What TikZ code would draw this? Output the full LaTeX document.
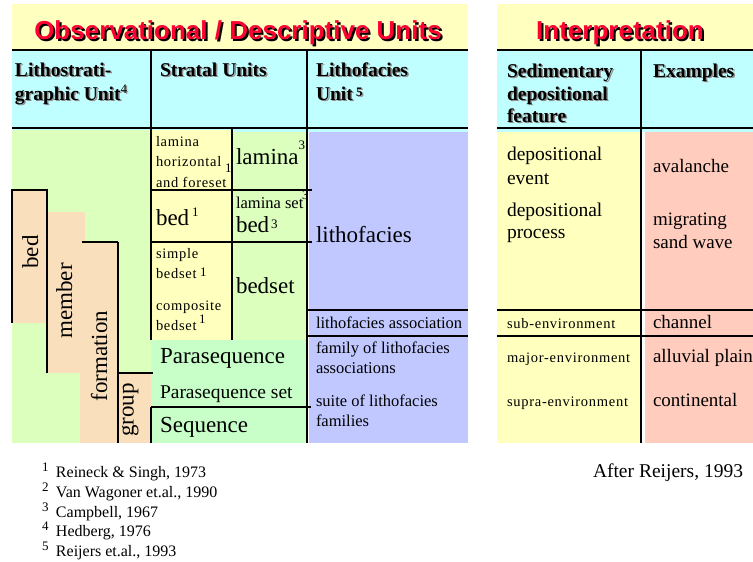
\documentclass[tikz,border=0pt]{standalone}
\usepackage{fontspec}
\setmainfont{Liberation Serif}
\newfontfamily\headsans{Liberation Sans}
\newcommand\pxsize[1]{\fontsize{#1}{#1}\selectfont}
% text with a drop shadow: #1 shadow colour, #2 offset, #3 text colour, #4 text
\newcommand\shtxt[4]{\leavevmode\rlap{\hspace*{#2}\raisebox{-#2}{\textcolor{#1}{#4}}}\textcolor{#3}{#4}}
\newcommand\hdtxt[1]{\shtxt{black!45}{1.5pt}{black}{#1}}

\definecolor{titlebg}{HTML}{FFFFC0}
\definecolor{headbg}{HTML}{C0FFFF}
\definecolor{lithogreen}{HTML}{DCFFBE}
\definecolor{tanfill}{HTML}{FADFBC}
\definecolor{cellyel}{HTML}{FFFFBE}
\definecolor{mint}{HTML}{C8FFC8}
\definecolor{faciesblue}{HTML}{C0C8FF}
\definecolor{salmon}{HTML}{FFCCBE}
\definecolor{titlered}{HTML}{FF0033}

\begin{document}
\begin{tikzpicture}[x=1pt,y=-1pt,
  rule/.style={line width=1.4pt, black},
  lbl/.style={anchor=base west, inner sep=0pt, outer sep=0pt},
  titletxt/.style={anchor=base, inner sep=0pt, font=\headsans\bfseries\pxsize{26}},
  hd/.style={lbl, font=\bfseries\pxsize{19.5}},
  big/.style={lbl, font=\pxsize{23}},
  mid/.style={lbl, font=\pxsize{19.5}},
  ex/.style={lbl, font=\pxsize{19}},
  sml/.style={lbl, font=\pxsize{16.5}},
  foot/.style={lbl, font=\pxsize{16}},
  tiny/.style={lbl, font=\pxsize{14.5}\addfontfeature{LetterSpace=5}},
  supnum/.style={lbl, font=\pxsize{13}},
  vert/.style={anchor=base, inner sep=0pt, outer sep=0pt, rotate=90, font=\pxsize{23}}]

\useasboundingbox (0,0) rectangle (753,562);

% ---------- Observational / Descriptive Units: fills ----------
\fill[titlebg] (12,4) rectangle (468,50);
\fill[headbg] (12,50) rectangle (468,132);
\fill[lithogreen] (12,130) rectangle (151,443);
\fill[cellyel] (151,130) rectangle (232,340);
\fill[lithogreen] (232,132) rectangle (307,340);
\fill[mint] (151,340) rectangle (307,443);
\fill[faciesblue] (309,132) rectangle (468,443);
% lithostratigraphic staircase
\fill[tanfill] (12,190) rectangle (47,323);
\fill[tanfill] (47,212) rectangle (85,242);
\fill[tanfill] (47,242) rectangle (82,373);
\fill[tanfill] (80,242) rectangle (118,443);
\fill[tanfill] (118,373) rectangle (151,443);

% ---------- Observational / Descriptive Units: rules ----------
\draw[rule] (12,50) -- (468,50);
\draw[rule] (12,128) -- (468,128);
\draw[rule] (151,50) -- (151,340);
\draw[rule] (151,407) -- (151,443);
\draw[rule] (307,50) -- (307,443);
\draw[rule] (232,128) -- (232,340);
\draw[rule] (151,190) -- (312,190);
\draw[rule] (151,242) -- (312,242);
\draw[rule] (151,407) -- (311,407);
\draw[rule] (307,310) -- (468,310);
\draw[rule] (307,336) -- (468,336);
\draw[rule] (12,323) -- (12,190) -- (48,190);
\draw[rule] (47,190) -- (47,373);
\draw[rule] (82,242) -- (118,242);
\draw[rule] (118,242) -- (118,443);
\draw[rule] (118,373) -- (153,373);

% ---------- Interpretation: fills and rules ----------
\fill[titlebg] (497,4) rectangle (753,50);
\fill[headbg] (497,50) rectangle (753,132);
\fill[cellyel] (497,132) rectangle (641,443);
\fill[salmon] (645,132) rectangle (753,443);
\draw[rule] (497,50) -- (753,50);
\draw[rule] (497,128) -- (753,128);
\draw[rule] (641,50) -- (641,443);
\draw[rule] (497,310) -- (753,310);
\draw[rule] (497,336) -- (753,336);

% ---------- titles ----------
\node[titletxt] (obsTitle) at (238,39) {\shtxt{black}{2pt}{titlered}{Observational / Descriptive Units}};
\node[titletxt] (intTitle) at (620,39) {\shtxt{black}{2pt}{titlered}{Interpretation}};

% ---------- column headings ----------
\node[hd] (hLithA) at (15,76) {\hdtxt{Lithostrati-}};
\node[hd] (hLithB) at (15,100) {\hdtxt{graphic Unit\raisebox{7pt}{\pxsize{13}\mdseries 4}}};
\node[hd] (hStrat) at (160,76) {\hdtxt{Stratal Units}};
\node[hd] (hFacA) at (316,76) {\hdtxt{Lithofacies}};
\node[hd] (hFacB) at (316,100) {\hdtxt{Unit\,\raisebox{4pt}{\pxsize{13}5}}};
\node[hd] (hSedA) at (507,77) {\hdtxt{Sedimentary}};
\node[hd] (hSedB) at (507,100) {\hdtxt{depositional}};
\node[hd] (hSedC) at (507,122) {\hdtxt{feature}};
\node[hd] (hEx) at (653,77) {\hdtxt{Examples}};

% ---------- lithostratigraphic units ----------
\node[vert] (uBed) at (38,252) {bed};
\node[vert] (uMember) at (72,301) {member};
\node[vert] (uFormation) at (107,356) {formation};
\node[vert] (uGroup) at (133.5,410) {group};

% ---------- stratal units ----------
\node[tiny] (sLamA) at (156,146) {lamina};
\node[tiny] (sLamB) at (156,166) {horizontal};
\node[tiny] (sLamC) at (156,187) {and foreset};
\node[supnum] (sLamSup) at (225,172) {1};
\node[big] (sLamina) at (236,164) {lamina};
\node[supnum] (sLaminaSup) at (298.5,149) {3};
\node[big] (sBed) at (156,225) {bed};
\node[supnum] (sBedSup) at (192,216) {1};
\node[sml] (sLamSet) at (236,208) {lamina set};
\node[supnum] (sLamSetSup) at (302,199) {3};
\node[big] (sBedB) at (236,232) {bed};
\node[supnum] (sBedBSup) at (271,228) {3};
\node[tiny] (sSimple) at (156,258) {simple};
\node[tiny] (sSimpleB) at (156,278) {bedset};
\node[supnum] (sSimpleSup) at (200,276) {1};
\node[tiny] (sComp) at (156,310) {composite};
\node[tiny] (sCompB) at (156,330) {bedset};
\node[supnum] (sCompSup) at (199,323) {1};
\node[big] (sBedset) at (236,293) {bedset};
\node[big] (sPara) at (160,363) {Parasequence};
\node[mid] (sParaSet) at (160,398) {Parasequence set};
\node[big] (sSeq) at (160,432) {Sequence};

% ---------- lithofacies units ----------
\node[big] (fLitho) at (316,242) {lithofacies};
\node[sml] (fAssoc) at (316,328) {lithofacies association};
\node[sml] (fFamA) at (316,353) {family of lithofacies};
\node[sml] (fFamB) at (316,373) {associations};
\node[sml] (fSuiteA) at (316,406) {suite of lithofacies};
\node[sml] (fSuiteB) at (316,426) {families};

% ---------- interpretation ----------
\node[mid] (iEventA) at (507,160) {depositional};
\node[mid] (iEventB) at (507,184) {event};
\node[mid] (iProcA) at (507,216) {depositional};
\node[mid] (iProcB) at (507,238) {process};
\node[ex] (eAval) at (653,172) {avalanche};
\node[ex] (eMigA) at (653,225) {migrating};
\node[ex] (eMigB) at (653,248) {sand wave};
\node[tiny] (iSub) at (507,328) {sub-environment};
\node[ex] (eChan) at (653,328) {channel};
\node[tiny] (iMajor) at (507,362) {major-environment};
\node[ex] (eAll) at (653,362) {alluvial plain};
\node[tiny] (iSupra) at (507,406) {supra-environment};
\node[ex] (eCont) at (653,406) {continental};

% ---------- references ----------
\node[supnum] (n1) at (42,471) {1};
\node[foot] (r1) at (56,477) {Reineck \& Singh, 1973};
\node[supnum] (n2) at (42,491) {2};
\node[foot] (r2) at (56,497) {Van Wagoner et.al., 1990};
\node[supnum] (n3) at (42,511) {3};
\node[foot] (r3) at (56,517) {Campbell, 1967};
\node[supnum] (n4) at (42,530) {4};
\node[foot] (r4) at (56,536) {Hedberg, 1976};
\node[supnum] (n5) at (42,550) {5};
\node[foot] (r5) at (56,556) {Reijers et.al., 1993};
\node[lbl, font=\pxsize{19.5}] (after) at (593,477) {After Reijers, 1993};
\end{tikzpicture}
\end{document}
